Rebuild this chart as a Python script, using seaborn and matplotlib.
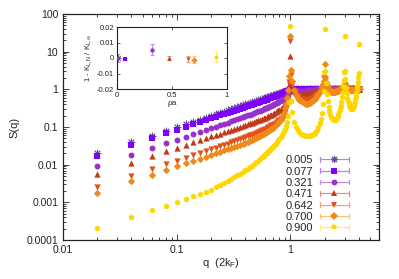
import matplotlib
matplotlib.use("Agg")
import matplotlib.pyplot as plt
import seaborn as sns
from matplotlib.lines import Line2D
from matplotlib.legend_handler import HandlerBase
from matplotlib.ticker import FixedLocator, FuncFormatter, LogLocator, NullFormatter

# ---- data ----
q_low = [0.02, 0.04, 0.06, 0.08, 0.10, 0.12, 0.14, 0.16, 0.18, 0.20,
         0.22, 0.24, 0.26, 0.28, 0.30, 0.32, 0.34, 0.36, 0.38, 0.40,
         0.42, 0.44, 0.46, 0.48, 0.50, 0.52, 0.54, 0.56, 0.58, 0.60,
         0.62, 0.64, 0.66, 0.68, 0.70, 0.72, 0.74, 0.76, 0.78, 0.80,
         0.82, 0.84, 0.86, 0.88, 0.90, 0.92, 0.94, 0.96, 0.98, 1.00]
q_high = [1.02, 1.04, 1.08, 1.12, 1.16, 1.20, 1.24, 1.28, 1.32, 1.36, 1.40, 1.44, 1.48,
          1.52, 1.56, 1.60, 1.64, 1.68, 1.72, 1.76, 1.80, 1.84, 1.88, 1.92, 1.96, 1.98,
          2.00, 2.02, 2.04, 2.08, 2.12, 2.16, 2.20, 2.24, 2.28, 2.32, 2.36, 2.40, 2.44, 2.48,
          2.52, 2.56, 2.60, 2.64, 2.68, 2.72, 2.76, 2.80, 2.84, 2.88, 2.92, 2.96, 2.98,
          3.00, 3.02, 3.04, 3.08, 3.12, 3.16, 3.20, 3.24, 3.28, 3.32, 3.36, 3.40, 3.44, 3.48,
          3.52, 3.56, 3.60, 3.64, 3.68, 3.72, 3.76, 3.80, 3.84, 3.88, 3.92, 3.96, 3.98, 4.00]

S_005_low = [0.020, 0.040, 0.059, 0.079, 0.099, 0.119, 0.139, 0.158, 0.178, 0.198,
             0.218, 0.238, 0.257, 0.277, 0.297, 0.317, 0.337, 0.356, 0.376, 0.396,
             0.416, 0.436, 0.455, 0.475, 0.495, 0.515, 0.535, 0.554, 0.574, 0.594,
             0.614, 0.634, 0.653, 0.673, 0.693, 0.713, 0.733, 0.752, 0.772, 0.792,
             0.812, 0.832, 0.851, 0.871, 0.891, 0.911, 0.931, 0.950, 0.970, 1.00]
S_005_high = [1.0, 1.0, 1.0, 1.0, 1.0, 1.0, 1.0, 1.0, 1.0, 1.0, 1.0, 1.0, 1.0,
              1.0, 1.0, 1.0, 1.0, 1.0, 1.0, 1.0, 1.0, 1.0, 1.0, 1.0, 1.0, 1.0,
              1.0, 1.0, 1.0, 1.0, 1.0, 1.0, 1.0, 1.0, 1.0, 1.0, 1.0, 1.0, 1.0, 1.0,
              1.0, 1.0, 1.0, 1.0, 1.0, 1.0, 1.0, 1.0, 1.0, 1.0, 1.0, 1.0, 1.0,
              1.0, 1.0, 1.0, 1.0, 1.0, 1.0, 1.0, 1.0, 1.0, 1.0, 1.0, 1.0, 1.0, 1.0,
              1.0, 1.0, 1.0, 1.0, 1.0, 1.0, 1.0, 1.0, 1.0, 1.0, 1.0, 1.0, 1.0, 1.0]

S_077_low = [0.017, 0.034, 0.051, 0.068, 0.085, 0.102, 0.119, 0.136, 0.153, 0.170,
             0.187, 0.205, 0.222, 0.239, 0.256, 0.273, 0.290, 0.308, 0.325, 0.342,
             0.359, 0.377, 0.394, 0.411, 0.429, 0.446, 0.464, 0.482, 0.500, 0.518,
             0.537, 0.555, 0.574, 0.593, 0.612, 0.632, 0.652, 0.672, 0.693, 0.714,
             0.735, 0.757, 0.780, 0.803, 0.827, 0.851, 0.876, 0.902, 0.930, 1.05]
S_077_high = [1.0, 0.99, 0.985, 0.985, 0.99, 0.99, 0.99, 0.99, 1.0, 1.0, 1.0, 1.0, 1.0,
              1.0, 1.0, 1.0, 1.0, 1.0, 1.0, 1.0, 1.0, 1.0, 1.0, 1.0, 1.0, 1.0,
              1.0, 1.0, 1.0, 1.0, 1.0, 1.0, 1.0, 1.0, 1.0, 1.0, 1.0, 1.0, 1.0, 1.0,
              1.0, 1.0, 1.0, 1.0, 1.0, 1.0, 1.0, 1.0, 1.0, 1.0, 1.0, 1.0, 1.0,
              1.0, 1.0, 1.0, 1.0, 1.0, 1.0, 1.0, 1.0, 1.0, 1.0, 1.0, 1.0, 1.0, 1.0,
              1.0, 1.0, 1.0, 1.0, 1.0, 1.0, 1.0, 1.0, 1.0, 1.0, 1.0, 1.0, 1.0, 1.0]

S_321_low = [0.0092, 0.0184, 0.0277, 0.0369, 0.0461, 0.0554, 0.0646, 0.0739, 0.0832, 0.0926,
             0.102, 0.1115, 0.1211, 0.1308, 0.1405, 0.1504, 0.1604, 0.1705, 0.1809, 0.1914,
             0.2021, 0.213, 0.2242, 0.2357, 0.2475, 0.2596, 0.272, 0.2849, 0.2982, 0.3118,
             0.326, 0.3407, 0.3559, 0.3716, 0.388, 0.405, 0.4227, 0.4411, 0.4603, 0.4802,
             0.501, 0.5226, 0.5453, 0.5688, 0.5933, 0.63, 0.67, 0.72, 0.85, 1.6]
S_321_high = [1.15, 1.05, 0.98, 0.95, 0.93, 0.92, 0.92, 0.92, 0.93, 0.93, 0.94, 0.95, 0.96,
              0.97, 0.97, 0.98, 0.98, 0.99, 0.99, 1.0, 1.0, 1.0, 1.0, 1.01, 1.01, 1.02,
              1.03, 1.02, 1.01, 1.0, 1.0, 1.0, 1.0, 1.0, 1.0, 1.0, 1.0, 1.0, 1.0, 1.0,
              1.0, 1.0, 1.0, 1.0, 1.0, 1.0, 1.0, 1.0, 1.0, 1.0, 1.0, 1.0, 1.0,
              1.0, 1.0, 1.0, 1.0, 1.0, 1.0, 1.0, 1.0, 1.0, 1.0, 1.0, 1.0, 1.0, 1.0,
              1.0, 1.0, 1.0, 1.0, 1.0, 1.0, 1.0, 1.0, 1.0, 1.0, 1.0, 1.0, 1.0, 1.0]

S_471_low = [0.0056, 0.0112, 0.0168, 0.0224, 0.028, 0.0336, 0.0392, 0.0448, 0.0504, 0.056,
             0.0616, 0.0672, 0.0728, 0.0784, 0.0841, 0.0897, 0.0953, 0.101, 0.107, 0.1127,
             0.1185, 0.1246, 0.1307, 0.1367, 0.1431, 0.1495, 0.1562, 0.1632, 0.1705, 0.1781,
             0.1861, 0.1946, 0.2036, 0.2134, 0.2238, 0.2353, 0.2474, 0.2609, 0.2754, 0.2914,
             0.3088, 0.3283, 0.3496, 0.3728, 0.399, 0.435, 0.50, 0.64, 1.3, 7.7]
S_471_high = [1.7, 1.15, 0.92, 0.84, 0.80, 0.78, 0.77, 0.76, 0.76, 0.76, 0.77, 0.78, 0.79,
              0.81, 0.83, 0.85, 0.87, 0.89, 0.91, 0.93, 0.95, 0.97, 0.99, 1.01, 1.03, 1.04,
              1.06, 1.04, 1.03, 1.02, 1.01, 1.0, 0.99, 0.99, 0.99, 0.99, 0.99, 0.99, 0.99, 0.99,
              0.99, 0.99, 0.99, 0.99, 0.99, 0.99, 0.99, 0.99, 0.99, 0.99, 0.99, 0.99, 0.99,
              1.0, 1.0, 1.0, 1.0, 1.0, 1.0, 1.0, 1.0, 1.0, 1.0, 1.0, 1.0, 1.0, 1.0,
              1.0, 1.0, 1.0, 1.0, 1.0, 1.0, 1.0, 1.0, 1.0, 1.0, 1.0, 1.0, 1.0, 1.0]

S_642_low = [0.00256, 0.00512, 0.00768, 0.01024, 0.0128, 0.0154, 0.0179, 0.0205, 0.0231, 0.0258,
             0.0284, 0.0311, 0.0337, 0.0364, 0.0391, 0.0419, 0.0447, 0.0476, 0.0505, 0.0536,
             0.0567, 0.0599, 0.0632, 0.0666, 0.0701, 0.0738, 0.0776, 0.0816, 0.0857, 0.0901,
             0.0947, 0.0995, 0.1046, 0.110, 0.116, 0.122, 0.129, 0.136, 0.144, 0.153,
             0.164, 0.177, 0.193, 0.215, 0.25, 0.31, 0.41, 0.62, 1.6, 19.6]
S_642_high = [2.4, 1.4, 0.92, 0.75, 0.66, 0.60, 0.56, 0.54, 0.52, 0.52, 0.52, 0.53, 0.54,
              0.56, 0.59, 0.62, 0.66, 0.70, 0.75, 0.81, 0.87, 0.94, 1.02, 1.12, 1.25, 1.38,
              1.6, 1.35, 1.24, 1.12, 1.05, 1.0, 0.97, 0.95, 0.94, 0.93, 0.93, 0.93, 0.93, 0.94,
              0.94, 0.95, 0.96, 0.97, 0.98, 0.99, 1.0, 1.01, 1.02, 1.03, 1.05, 1.07, 1.08,
              1.12, 1.08, 1.06, 1.04, 1.02, 1.01, 1.0, 0.99, 0.99, 0.99, 0.99, 0.99, 0.99, 0.99,
              0.99, 1.0, 1.0, 1.0, 1.0, 1.0, 1.0, 1.0, 1.0, 1.0, 1.0, 1.0, 1.0, 1.01]

S_700_low = [0.0018, 0.0036, 0.0054, 0.0072, 0.009, 0.0108, 0.0126, 0.0144, 0.0163, 0.0182,
             0.02, 0.0219, 0.0238, 0.0257, 0.0278, 0.0298, 0.0318, 0.0339, 0.0361, 0.0385,
             0.0409, 0.0434, 0.046, 0.0488, 0.0518, 0.0549, 0.0582, 0.0618, 0.0656, 0.0697,
             0.0741, 0.0789, 0.0841, 0.0898, 0.096, 0.103, 0.111, 0.12, 0.13, 0.142,
             0.157, 0.176, 0.20, 0.235, 0.32, 0.42, 0.60, 0.95, 2.2, 26.5]
S_700_high = [3.2, 1.7, 0.95, 0.72, 0.60, 0.53, 0.48, 0.45, 0.43, 0.42, 0.42, 0.43, 0.44,
              0.46, 0.49, 0.52, 0.56, 0.61, 0.67, 0.75, 0.84, 0.96, 1.12, 1.35, 1.7, 2.2,
              4.6, 2.1, 1.6, 1.25, 1.08, 0.98, 0.92, 0.88, 0.86, 0.85, 0.85, 0.85, 0.86, 0.87,
              0.88, 0.90, 0.92, 0.94, 0.96, 0.99, 1.02, 1.05, 1.09, 1.13, 1.18, 1.25, 1.32,
              1.5, 1.3, 1.22, 1.13, 1.08, 1.04, 1.01, 0.99, 0.97, 0.96, 0.96, 0.96, 0.96, 0.96,
              0.97, 0.97, 0.98, 0.98, 0.99, 0.99, 1.0, 1.0, 1.01, 1.01, 1.02, 1.03, 1.04, 1.06]

S_900_low = [0.000202, 0.000404, 0.000607, 0.00081, 0.00102, 0.00123, 0.00145, 0.00168, 0.00192, 0.00218,
             0.0025, 0.0028, 0.0032, 0.0037, 0.0042, 0.0047, 0.0052, 0.0058, 0.0064, 0.0071,
             0.0078, 0.0086, 0.0095, 0.0105, 0.0116, 0.0128, 0.0141, 0.0155, 0.017, 0.0187,
             0.0205, 0.0225, 0.0247, 0.0272, 0.03, 0.033, 0.0364, 0.0402, 0.0445, 0.0493,
             0.0548, 0.0612, 0.0688, 0.0781, 0.09, 0.108, 0.137, 0.20, 0.45, 49.0]
S_900_high = [0.50, 0.25, 0.135, 0.098, 0.081, 0.072, 0.066, 0.062, 0.060, 0.059, 0.058, 0.058, 0.059,
              0.060, 0.062, 0.066, 0.070, 0.076, 0.085, 0.10, 0.125, 0.165, 0.24, 0.40, 0.9, 2.9,
              39.0, 3.0, 1.5, 0.75, 0.48, 0.35, 0.27, 0.22, 0.19, 0.172, 0.162, 0.156, 0.155, 0.158,
              0.165, 0.176, 0.192, 0.215, 0.25, 0.30, 0.37, 0.47, 0.62, 0.85, 1.2, 1.8, 2.9,
              26.6, 3.0, 1.9, 1.1, 0.78, 0.60, 0.50, 0.43, 0.38, 0.34, 0.32, 0.305, 0.30, 0.30,
              0.31, 0.33, 0.36, 0.40, 0.46, 0.54, 0.65, 0.80, 1.0, 1.25, 1.6, 2.1, 2.7, 16.3]

# inset: Luttinger parameter deviation vs density
rho_a = [0.005, 0.077, 0.321, 0.471, 0.642, 0.700, 0.900]
dK = [0.0, -0.0008, 0.0053, 0.0, -0.0006, -0.0012, 0.0006]
dK_err = [0.0025, 0.0005, 0.0035, 0.0012, 0.0018, 0.0022, 0.003]

labels = ["0.005", "0.077", "0.321", "0.471", "0.642", "0.700", "0.900"]
S_all = [S_005_low + S_005_high, S_077_low + S_077_high, S_321_low + S_321_high,
         S_471_low + S_471_high, S_642_low + S_642_high, S_700_low + S_700_high,
         S_900_low + S_900_high]
q = q_low + q_high

colors = ["#6b4c9a", "#8000ff", "#9932cc", "#c0391b", "#e0531a", "#f0891c", "#ffd700"]
lights = ["#a892c4", "#b580ff", "#c58fe0", "#e0907e", "#f0a07e", "#f7c080", "#ffe97a"]
markers = [(8, 2, 0), "s", "o", "^", "v", "D", "p"]
sizes = [24, 20, 18, 20, 20, 14, 20]

sns.set_style("ticks")
plt.rcParams["font.family"] = ["Liberation Sans", "DejaVu Sans"]
plt.rcParams["mathtext.default"] = "regular"

fig = plt.figure(figsize=(3.99, 2.79), dpi=100)
ax = fig.add_axes([63 / 399, 39 / 279, 316 / 399, 226 / 279])

for S, c, m, sz in zip(S_all, colors, markers, sizes):
    if m == markers[0]:
        sns.scatterplot(x=q, y=S, marker=m, color=c, edgecolor=c, s=sz, linewidth=0.7,
                        legend=False, ax=ax)
    else:
        sns.scatterplot(x=q, y=S, marker=m, color=c, s=sz, linewidth=0,
                        legend=False, ax=ax)

ax.set_xscale("log")
ax.set_yscale("log")
ax.set_xlim(0.01, 6.0)
ax.set_ylim(1e-4, 100)
fmt = FuncFormatter(lambda v, p: f"{v:g}")
ax.xaxis.set_major_locator(FixedLocator([0.01, 0.1, 1]))
ax.xaxis.set_major_formatter(fmt)
ax.xaxis.set_minor_locator(LogLocator(base=10, subs=range(2, 10)))
ax.xaxis.set_minor_formatter(NullFormatter())
ax.yaxis.set_major_locator(FixedLocator([1e-4, 1e-3, 1e-2, 0.1, 1, 10, 100]))
ax.yaxis.set_major_formatter(fmt)
ax.yaxis.set_minor_locator(LogLocator(base=10, subs=range(2, 10)))
ax.yaxis.set_minor_formatter(NullFormatter())
ax.tick_params(which="both", direction="in", top=True, right=True, labelsize=7.5,
               colors="#222222", width=0.6)
ax.tick_params(which="major", length=4)
ax.tick_params(which="minor", length=2)
for sp in ax.spines.values():
    sp.set_linewidth(0.9)
    sp.set_color("#222222")
ax.set_xlabel("q  (2k$_F$)", fontsize=8, labelpad=1)
ax.set_ylabel("S(q)", fontsize=8, labelpad=5)


class ErrorbarKey(HandlerBase):
    def create_artists(self, legend, orig_handle, xdescent, ydescent, width, height,
                       fontsize, trans):
        x0 = -xdescent
        x1 = x0 + width
        yc = -ydescent + height / 2
        light = orig_handle.get_color()
        bar = Line2D([x0, x1], [yc, yc], color=light, lw=0.9)
        cap_l = Line2D([x0, x0], [yc - height * 0.3, yc + height * 0.3], color=light, lw=0.9)
        cap_r = Line2D([x1, x1], [yc - height * 0.3, yc + height * 0.3], color=light, lw=0.9)
        mk = Line2D([(x0 + x1) / 2], [yc], linestyle="none", marker=orig_handle.get_marker(),
                    markersize=orig_handle.get_markersize(),
                    markerfacecolor=orig_handle.get_markerfacecolor(),
                    markeredgecolor=orig_handle.get_markeredgecolor(),
                    markeredgewidth=orig_handle.get_markeredgewidth())
        arts = [bar, cap_l, cap_r, mk]
        for a in arts:
            a.set_transform(trans)
        return arts


handles = []
for c, lc, m in zip(colors, lights, markers):
    if m == markers[0]:
        h = Line2D([], [], color=lc, marker=m, markersize=5, markerfacecolor=c,
                   markeredgecolor=c, markeredgewidth=0.8)
    else:
        h = Line2D([], [], color=lc, marker=m, markersize=4.2, markerfacecolor=c,
                   markeredgecolor=c, markeredgewidth=0)
    handles.append(h)
ax.legend(handles, labels, handler_map={Line2D: ErrorbarKey()}, loc="lower right",
          bbox_to_anchor=(0.925, 0.0), frameon=False, markerfirst=False, fontsize=8,
          handlelength=2.6, handletextpad=0.6, labelspacing=0.12, borderaxespad=0.2)

# inset
axi = fig.add_axes([117 / 399, 190 / 279, 110 / 399, 62 / 279])
for x, y, e, c, lc, m in zip(rho_a, dK, dK_err, colors, lights, markers):
    axi.errorbar([x], [y], yerr=[e], fmt="none", ecolor=lc, elinewidth=0.8, capsize=1.5,
                 capthick=0.8)
    if m == markers[0]:
        sns.scatterplot(x=[x], y=[y], marker=m, color=c, edgecolor=c, s=14, linewidth=0.6,
                        legend=False, ax=axi, zorder=3)
    else:
        sns.scatterplot(x=[x], y=[y], marker=m, color=c, s=10, linewidth=0,
                        legend=False, ax=axi, zorder=3)
axi.set_xlim(0, 1)
axi.set_ylim(-0.02, 0.02)
axi.set_xticks([0, 0.5, 1])
axi.set_yticks([-0.02, -0.01, 0, 0.01, 0.02])
axi.xaxis.set_major_formatter(fmt)
axi.yaxis.set_major_formatter(FuncFormatter(lambda v, p: "0" if abs(v) < 1e-9 else f"{v:g}"))
axi.tick_params(which="both", direction="in", top=True, right=True, labelsize=5.5,
                length=2.5, width=0.5, pad=2, colors="#222222")
for sp in axi.spines.values():
    sp.set_linewidth(0.8)
    sp.set_color("#222222")
axi.set_xlabel("ρa", fontsize=6, labelpad=1)
axi.set_ylabel(r"1 - K$_{L,N}$ / K$_{L,\infty}$", fontsize=5.5, labelpad=2)

fig.savefig("out.png", dpi=100)
